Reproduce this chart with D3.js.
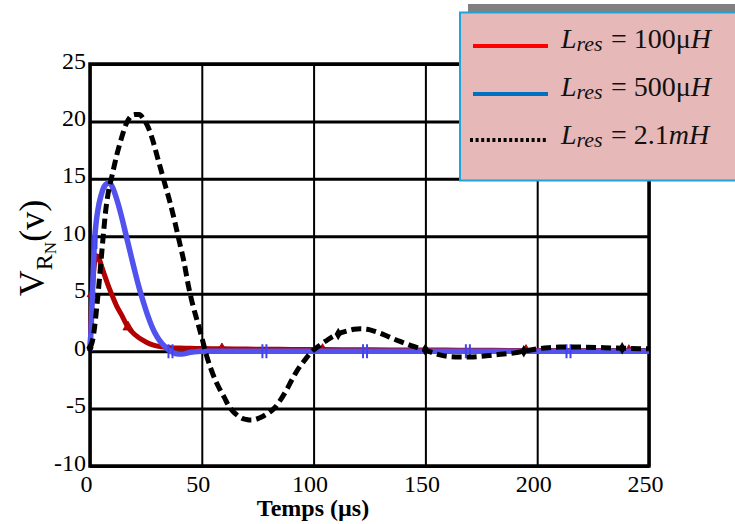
<!DOCTYPE html>
<html>
<head>
<meta charset="utf-8">
<script src="https://cdn.jsdelivr.net/npm/d3@7"></script>
<style>
  html, body { margin: 0; padding: 0; background: #fff; }
  svg { display: block; }
</style>
</head>
<body>
<svg id="chart" width="735" height="524"></svg>
<script>
// Tick values
const xTicks = [0, 50, 100, 150, 200, 250];
const yTicks = [-10, -5, 0, 5, 10, 15, 20, 25];

// L_res = 100 µH
const t100 = [0, 0.5, 1, 2, 3, 4, 5, 6, 8, 10, 12, 14, 17, 20, 25, 28, 32, 36, 40, 45, 50, 59, 70, 80, 90, 104, 120, 135, 150, 165, 180, 195, 210, 225, 241, 250];
const v100 = [0, 3.0, 5.0, 7.6, 8.3, 8.1, 7.5, 6.9, 5.8, 4.8, 3.9, 3.2, 2.1, 1.45, 0.8, 0.55, 0.38, 0.3, 0.27, 0.25, 0.22, 0.2, 0.18, 0.16, 0.15, 0.14, 0.12, 0.1, 0.1, 0.08, 0.07, 0.06, 0.05, 0.05, 0.05, 0.05];
const marks100 = [1, 17, 59, 104, 150, 195, 241];

// L_res = 500 µH
const t500 = [0, 0.5, 1, 2, 3, 4, 5, 6, 7, 8, 9, 10, 11, 12, 14, 16, 18, 20, 22, 24, 26, 28, 30, 32, 34, 36, 38, 41, 45, 50, 60, 78, 100, 123, 146, 169, 192, 214, 235, 250];
const v500 = [0, 2, 4.5, 9.5, 11.6, 12.8, 13.6, 14.2, 14.5, 14.65, 14.6, 14.3, 13.8, 13.2, 11.8, 10.2, 8.6, 7.0, 5.5, 4.2, 3.0, 2.0, 1.25, 0.7, 0.3, 0.0, -0.2, -0.25, -0.1, 0, 0, 0, 0, 0, 0, 0, 0, 0, 0, 0];
const marks500 = [2, 36, 78, 123, 169, 214];

// L_res = 2.1 mH
const t2100 = [0, 1, 2, 3, 4, 5, 6, 7, 8, 10, 12, 14, 16, 18, 20, 22, 24, 26, 28, 30, 32, 34, 36, 38, 40, 42, 44, 46, 48, 50, 52, 54, 56, 58, 60, 62, 64, 66, 68, 70, 72, 74, 76, 78, 80, 82, 84, 86, 88, 90, 92, 94, 96, 98, 100, 102, 104, 106, 108, 111, 115, 118, 121, 124, 127, 130, 133, 136, 140, 144, 148, 150, 152, 156, 160, 165, 170, 175, 180, 185, 190, 194, 200, 205, 210, 220, 230, 238, 250];
const v2100 = [0.3, 0.8, 2.0, 3.8, 5.8, 8.0, 10.2, 12.2, 13.6, 15.4, 17.1, 18.5, 19.7, 20.4, 20.6, 20.6, 20.2, 19.5, 18.4, 17.0, 15.6, 14.2, 12.8, 11.2, 9.5, 7.8, 5.7, 4.0, 2.6, 1.2, -0.3, -1.5, -2.5, -3.3, -4.0, -4.75, -5.25, -5.6, -5.85, -5.95, -6.0, -5.95, -5.8, -5.6, -5.35, -5.05, -4.6, -4.0, -3.35, -2.6, -1.9, -1.3, -0.8, -0.3, 0.1, 0.4, 0.7, 0.95, 1.2, 1.5, 1.75, 1.9, 1.95, 1.9, 1.75, 1.55, 1.3, 1.05, 0.75, 0.45, 0.2, 0.1, -0.05, -0.3, -0.45, -0.5, -0.5, -0.45, -0.35, -0.25, -0.15, 0.0, 0.2, 0.3, 0.35, 0.35, 0.3, 0.25, 0.2];
const marks2100 = [0, 111, 150, 194, 238];

// Legend entries
const legendLabels = ["100μH", "500μH", "2.1mH"];

const svg = d3.select("#chart");
const W = 735, H = 524;
svg.append("rect").attr("width", W).attr("height", H).attr("fill", "#fff");

const plotL = 90, plotR = 649, plotT = 64, plotB = 466;
const x = d3.scaleLinear().domain([0, 250]).range([plotL, plotR]);
const y = d3.scaleLinear().domain([-10, 25]).range([plotB, plotT]);

const serif = "'Liberation Serif', 'Times New Roman', serif";

// Horizontal grid + y tick labels
const gy = svg.append("g")
  .attr("transform", `translate(${plotL},0)`)
  .call(d3.axisLeft(y).tickValues(yTicks).tickSize(-(plotR - plotL)).tickPadding(4).tickFormat(d3.format("d")));
gy.attr("font-family", serif).attr("font-size", 24);
gy.select(".domain").remove();
gy.selectAll(".tick line").attr("stroke", "#000").attr("stroke-width", 3);
gy.selectAll(".tick text")
  .style("font-family", serif).style("font-size", "24px").attr("fill", "#000")
  .attr("dy", "0.17em")
  .text(d => d < 0 ? "-" + Math.abs(d) : d);

// Vertical grid + x tick labels
const gx = svg.append("g")
  .attr("transform", `translate(0,${plotB})`)
  .call(d3.axisBottom(x).tickValues(xTicks).tickSize(-(plotB - plotT)).tickPadding(9).tickFormat(d3.format("d")));
gx.attr("font-family", serif).attr("font-size", 24);
gx.select(".domain").remove();
gx.selectAll(".tick line").attr("stroke", "#000").attr("stroke-width", 2);
gx.selectAll(".tick text")
  .style("font-family", serif).style("font-size", "24px").attr("fill", "#000")
  .attr("dx", -4);

// Plot frame
svg.append("rect")
  .attr("x", plotL).attr("y", plotT)
  .attr("width", plotR - plotL).attr("height", plotB - plotT)
  .attr("fill", "none").attr("stroke", "#000").attr("stroke-width", 3.5);

const line = d3.line().x(d => x(d[0])).y(d => y(d[1])).curve(d3.curveMonotoneX);
const zipPts = (ts, vs) => ts.map((t, i) => [t, vs[i]]);
const pickPts = (pts, marks) => marks.map(m => pts[d3.leastIndex(pts, p => Math.abs(p[0] - m))]);

const pts100 = zipPts(t100, v100);
const pts500 = zipPts(t500, v500);
const pts2100 = zipPts(t2100, v2100);

const plot = svg.append("g");

// 100 µH
plot.append("path").datum(pts100).attr("d", line)
  .attr("fill", "none").attr("stroke", "#b30000").attr("stroke-width", 5)
  .attr("stroke-linejoin", "round");
plot.append("g").selectAll("path").data(pickPts(pts100, marks100)).join("path")
  .attr("transform", d => `translate(${x(d[0])},${y(d[1])})`)
  .attr("d", d3.symbol(d3.symbolTriangle, 45))
  .attr("fill", "#c00000").attr("stroke", "#900").attr("stroke-width", 0.8);

// 500 µH
plot.append("path").datum(pts500).attr("d", line)
  .attr("fill", "none").attr("stroke", "#5252ef").attr("stroke-width", 5.5)
  .attr("stroke-linejoin", "round");
const bm = plot.append("g").selectAll("g").data(pickPts(pts500, marks500)).join("g")
  .attr("transform", d => `translate(${x(d[0])},${y(d[1])})`);
bm.append("path").attr("d", "M-2,-7V7M2,-7V7").attr("stroke", "#4343ee").attr("stroke-width", 2);

// 2.1 mH
plot.append("path").datum(pts2100).attr("d", line)
  .attr("fill", "none").attr("stroke", "#000").attr("stroke-width", 5)
  .attr("stroke-dasharray", "10,5");
plot.append("g").selectAll("path").data(pickPts(pts2100, marks2100)).join("path")
  .attr("transform", d => `translate(${x(d[0])},${y(d[1])})`)
  .attr("d", d3.symbol(d3.symbolDiamond, 45))
  .attr("fill", "#000");

// Axis titles
svg.append("text")
  .attr("x", 313).attr("y", 516)
  .attr("text-anchor", "middle")
  .attr("font-family", serif).attr("font-size", 24).attr("font-weight", "bold")
  .text("Temps (µs)");

const yt = svg.append("text")
  .attr("transform", "translate(44,248) rotate(-90)")
  .attr("text-anchor", "middle")
  .attr("font-family", serif).attr("font-size", 36);
yt.append("tspan").text("V");
yt.append("tspan").attr("font-size", 24).attr("dy", 8).text("R");
yt.append("tspan").attr("font-size", 17).attr("dy", 4).text("N");
yt.append("tspan").attr("dy", -12).text("(v)");

// Legend
svg.append("rect").attr("x", 468).attr("y", 4).attr("width", 280).attr("height", 9).attr("fill", "#808080");
svg.append("rect").attr("x", 460).attr("y", 12.5).attr("width", 300).attr("height", 168)
  .attr("fill", "#e6b8b7").attr("stroke", "#1fa3dd").attr("stroke-width", 2);

const legY = [46, 94, 140];
const legBase = [48, 96, 144];
const legStyles = [
  { color: "#ff0000", dash: null, w: 4, x1: 473, x2: 548 },
  { color: "#0070c0", dash: null, w: 4, x1: 473, x2: 548 },
  { color: "#000", dash: "3,2.6", w: 4, x1: 470, x2: 546 }
];
legendLabels.forEach((lab, i) => {
  const s = legStyles[i];
  svg.append("line")
    .attr("x1", s.x1).attr("x2", s.x2).attr("y1", legY[i]).attr("y2", legY[i])
    .attr("stroke", s.color).attr("stroke-width", s.w)
    .attr("stroke-dasharray", s.dash);
  const g = svg.append("g")
    .attr("font-family", serif).attr("fill", "#111");
  const t1 = g.append("text").attr("x", 561).attr("y", legBase[i]).attr("font-size", 28);
  t1.append("tspan").attr("font-style", "italic").text("L");
  t1.append("tspan").attr("font-style", "italic").attr("font-size", 22).attr("dy", 3).text("res");
  const t2 = g.append("text").attr("x", 611).attr("y", legBase[i]).attr("font-size", 28);
  t2.append("tspan").text("= ");
  const m = lab.match(/^([\d.]+)(μ|m)H$/);
  if (m[2] === "μ") {
    t2.append("tspan").text(m[1] + "μ");
  } else {
    t2.append("tspan").text(m[1]);
    t2.append("tspan").attr("font-style", "italic").text("m");
  }
  t2.append("tspan").attr("font-style", "italic").text("H");
});
</script>
</body>
</html>
